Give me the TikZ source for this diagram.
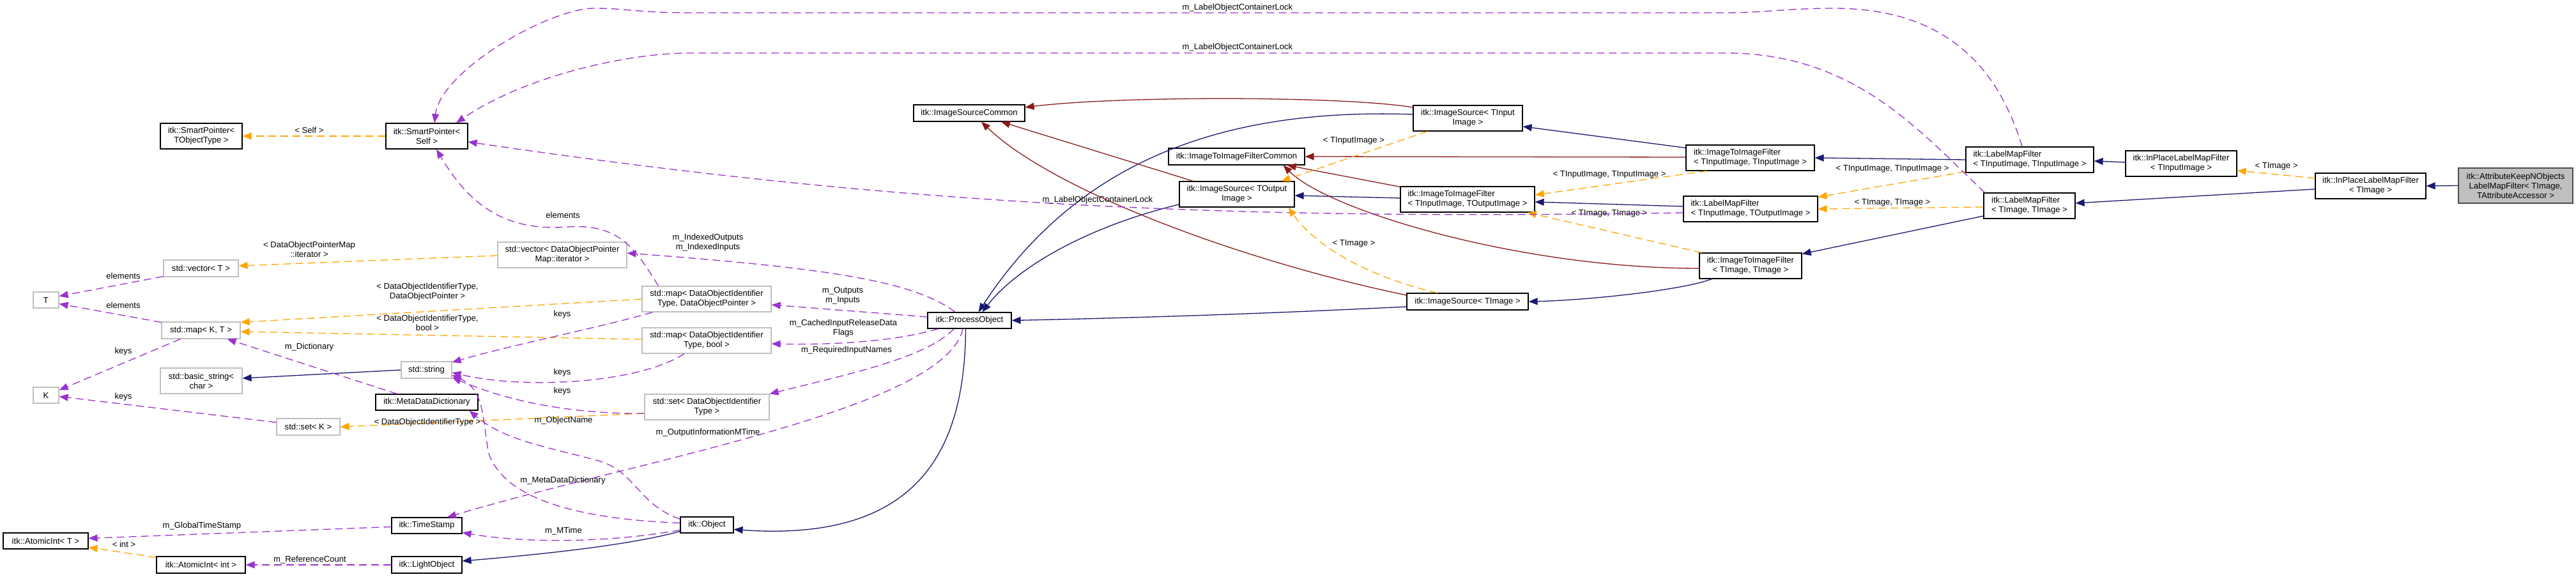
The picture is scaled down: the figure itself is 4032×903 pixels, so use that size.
\documentclass[tikz,border=0pt]{standalone}
\usepackage{fontspec}
\setmainfont{Liberation Sans}
\usetikzlibrary{arrows.meta}
\definecolor{navyc}{HTML}{191970}
\definecolor{brickc}{HTML}{8B1A1A}
\definecolor{orchidc}{HTML}{9A32CD}
\definecolor{orangec}{HTML}{FFA500}
\definecolor{greyc}{HTML}{BFBFBF}
\newcommand\dgfont{\fontsize{6.55pt}{7.5pt}\selectfont}
\newcommand\mknode[7]{\node[#6, minimum width={(#4-#2)*0.5pt}, minimum height={(#5-#3)*0.5pt}] (#1) at ({(#2+#4)/2},{(#3+#5)/2}) {#7};}
\begin{document}
\begin{tikzpicture}[x=0.5pt,y=-0.5pt,
 clsbox/.style={draw, line width=0.6pt, inner sep=0pt, font=\dgfont, align=center},
 doc/.style={clsbox, draw=black},
 undoc/.style={clsbox, draw=greyc},
 cur/.style={clsbox, draw=black!70, fill=greyc},
 lft/.style={align=left},
 conn/.style={line width=0.65pt},
 dxtip/.style={-{Triangle[length=7pt,width=5.5pt]}},
 pub/.style={conn, dxtip, draw=navyc},
 prot/.style={conn, dxtip, draw=brickc},
 usg/.style={conn, dxtip, draw=orchidc, dash pattern=on 6pt off 3.5pt},
 tmpl/.style={conn, dxtip, draw=orangec, dash pattern=on 6pt off 3.5pt},
 lbl/.style={font=\dgfont, align=center, inner sep=0pt},
]
\fill[white] (0,0) rectangle (4032,903);
\useasboundingbox (0,0) rectangle (4032,903);

% nodes
\mknode{spT}{251}{193}{379}{233}{doc}{itk::SmartPointer<\\TObjectType >}
\mknode{spS}{604}{193}{732}{233}{doc}{itk::SmartPointer<\\Self >}
\mknode{vecT}{256}{407}{373}{433}{undoc}{std::vector< T >}
\mknode{T}{52}{457}{92}{482}{undoc}{T}
\mknode{mapKT}{253}{504}{376}{530}{undoc}{std::map< K, T >}
\mknode{bstr}{251}{576}{379}{616}{undoc}{std::basic\_string<\\char >}
\mknode{K}{52}{606}{92}{631}{undoc}{K}
\mknode{setK}{433}{655}{532}{681}{undoc}{std::set< K >}
\mknode{aiT}{5}{834}{138}{859}{doc}{itk::AtomicInt< T >}
\mknode{aiInt}{245}{871}{384}{897}{doc}{itk::AtomicInt< int >}
\mknode{str}{628}{566}{707}{592}{undoc}{std::string}
\mknode{mdd}{588}{617}{748}{642}{doc}{itk::MetaDataDictionary}
\mknode{ts}{613}{810}{723}{835}{doc}{itk::TimeStamp}
\mknode{lo}{613}{871}{723}{897}{doc}{itk::LightObject}
\mknode{obj}{1065}{809}{1148}{834}{doc}{itk::Object}
\mknode{vecIt}{779}{379}{981}{419}{undoc}{std::vector< DataObjectPointer\\Map::iterator >}
\mknode{mapDP}{1005}{448}{1207}{488}{undoc}{std::map< DataObjectIdentifier\\Type, DataObjectPointer >}
\mknode{mapDB}{1005}{513}{1207}{553}{undoc}{std::map< DataObjectIdentifier\\Type, bool >}
\mknode{setD}{1009}{617}{1204}{657}{undoc}{std::set< DataObjectIdentifier\\Type >}
\mknode{isc}{1430}{164}{1604}{190}{doc}{itk::ImageSourceCommon}
\mknode{po}{1452}{489}{1583}{514}{doc}{itk::ProcessObject}
\mknode{iifc}{1829}{232}{2042}{258}{doc}{itk::ImageToImageFilterCommon}
\mknode{isOut}{1846}{284}{2026}{324}{doc}{itk::ImageSource< TOutput\\Image >}
\mknode{isIn}{2212}{165}{2383}{205}{doc}{itk::ImageSource< TInput\\Image >}
\mknode{iifIO}{2192}{292}{2402}{332}{doc,lft}{itk::ImageToImageFilter\\< TInputImage, TOutputImage >}
\mknode{isImg}{2202}{459}{2392}{485}{doc}{itk::ImageSource< TImage >}
\mknode{iifII}{2639}{227}{2840}{267}{doc,lft}{itk::ImageToImageFilter\\< TInputImage, TInputImage >}
\mknode{lmfIO}{2635}{307}{2845}{347}{doc,lft}{itk::LabelMapFilter\\< TInputImage, TOutputImage >}
\mknode{iifTT}{2660}{396}{2820}{436}{doc}{itk::ImageToImageFilter\\< TImage, TImage >}
\mknode{lmfII}{3077}{230}{3277}{270}{doc,lft}{itk::LabelMapFilter\\< TInputImage, TInputImage >}
\mknode{lmfTT}{3105}{302}{3248}{342}{doc,lft}{itk::LabelMapFilter\\< TImage, TImage >}
\mknode{iplIn}{3327}{236}{3501}{276}{doc}{itk::InPlaceLabelMapFilter\\< TInputImage >}
\mknode{iplT}{3624}{271}{3797}{311}{doc}{itk::InPlaceLabelMapFilter\\< TImage >}
\mknode{akn}{3848}{263}{4027}{318}{cur}{itk::AttributeKeepNObjects\\LabelMapFilter< TImage,\\TAttributeAccessor >}

% connectors
\draw[pub] (akn.west) -- (iplT.east);
\draw[pub] ([shift={(0,5)}]iplT.west) -- ([shift={(0,-4)}]lmfTT.east);
\draw[pub] ([shift={(0,-2)}]iplIn.west) -- ([shift={(0,2)}]lmfII.east);
\draw[tmpl] ([shift={(0,-12)}]iplT.west) -- ([shift={(0,11)}]iplIn.east);
\node[lbl] (l4) at (3563,260) {< TImage >};
\draw[pub] (lmfII.west) -- (iifII.east);
\draw[tmpl] ([shift={(0,-2)}]lmfII.south west) -- ([shift={(0,2)}]lmfIO.north east);
\node[lbl] (l6) at (2962,264) {< TInputImage, TInputImage >};
\draw[tmpl] ([shift={(0,2)}]lmfTT.west) -- (lmfIO.east);
\node[lbl] (l7) at (2962,317) {< TImage, TImage >};
\draw[pub] ([shift={(0,16)}]lmfTT.west) -- ([shift={(0,2)}]iifTT.north east);
\draw[pub] ([shift={(0,-4)}]lmfIO.west) -- ([shift={(0,4)}]iifIO.east);
\draw[tmpl] ([shift={(33,0)}]iifII.south west) -- ([shift={(0,-7)}]iifIO.east);
\node[lbl] (l10) at (2519,273) {< TInputImage, TInputImage >};
\draw[tmpl] ([shift={(4,0)}]iifTT.north west) -- ([shift={(-12,0)}]iifIO.south east);
\node[lbl] (l11) at (2519,334) {< TImage, TImage >};
\draw[pub] ([shift={(0,5)}]iifII.north west) -- ([shift={(0,13)}]isIn.east);
\draw[prot] ([shift={(0,-1)}]iifII.west) -- (iifc.east);
\draw[pub] ([shift={(0,-2)}]iifIO.west) -- ([shift={(0,2)}]isOut.east);
\draw[prot] ([shift={(0,1)}]iifIO.north west) -- ([shift={(-28,0)}]iifc.south east);
\draw[prot] ([shift={(0,4)}]iifTT.west) .. controls (2380,420) and (2080,330) .. ([shift={(-34,0)}]iifc.south east);
\draw[pub] ([shift={(20,0)}]iifTT.south west) .. controls (2630,455) and (2480,470) .. (isImg.east);
\draw[pub] ([shift={(0,-6)}]isIn.west) .. controls (1950,170) and (1700,230) .. ([shift={(14,0)}]po.north);
\draw[prot] ([shift={(0,-17)}]isIn.west) .. controls (2100,150) and (1750,150) .. ([shift={(0,-9)}]isc.east);
\draw[pub] ([shift={(0,16)}]isOut.west) .. controls (1700,355) and (1590,420) .. ([shift={(20,0)}]po.north);
\draw[prot] ([shift={(22,0)}]isOut.north west) -- ([shift={(50,0)}]isc.south);
\draw[prot] ([shift={(0,-10)}]isImg.west) .. controls (1950,410) and (1650,300) .. ([shift={(19,0)}]isc.south);
\draw[pub] ([shift={(0,8)}]isImg.west) .. controls (2000,490) and (1800,497) .. (po.east);
\draw[pub] ([shift={(-6,0)}]po.south) .. controls (1510,690) and (1450,850) .. ([shift={(0,7)}]obj.east);
\draw[pub] ([shift={(0,10)}]obj.west) .. controls (980,855) and (820,870) .. ([shift={(0,-6)}]lo.east);
\draw[usg] (lo.west) -- (aiInt.east);
\node[lbl] (l26) at (485,876) {m\_ReferenceCount};
\draw[usg] ([shift={(0,2)}]ts.west) -- ([shift={(0,-4)}]aiT.east);
\node[lbl] (l27) at (316,823) {m\_GlobalTimeStamp};
\draw[tmpl] ([shift={(0,2)}]aiInt.north west) -- ([shift={(0,10)}]aiT.east);
\node[lbl] (l28) at (194,852) {< int >};
\draw[usg] ([shift={(0,8)}]obj.west) .. controls (950,850) and (820,850) .. ([shift={(0,11)}]ts.east);
\node[lbl] (l29) at (882,831) {m\_MTime};
\draw[usg] ([shift={(-10.5,0)}]po.south) .. controls (1480,640) and (1000,720) .. ([shift={(32,0)}]ts.north);
\node[lbl] (l30) at (1108,677) {m\_OutputInformationMTime};
\draw[usg] ([shift={(-24.5,0)}]po.south) .. controls (1450,560) and (1330,585) .. (setD.north east);
\node[lbl] (l31) at (1325,548) {m\_RequiredInputNames};
\draw[usg] ([shift={(17,0)}]po.south west) .. controls (1400,535) and (1300,540) .. ([shift={(0,5)}]mapDB.east);
\node[lbl] (l32) at (1320,514) {m\_CachedInputReleaseData\\Flags};
\draw[usg] ([shift={(0,-5.5)}]po.west) -- ([shift={(0,9)}]mapDP.east);
\node[lbl] (l33) at (1319,463) {m\_Outputs\\m\_Inputs};
\draw[usg] ([shift={(-22.5,0)}]po.north) .. controls (1430,440) and (1300,420) .. ([shift={(0,-3)}]vecIt.east);
\node[lbl] (l34) at (1108,380) {m\_IndexedOutputs\\m\_IndexedInputs};
\draw[usg] ([shift={(26,0)}]mapDP.north west) .. controls (995,390) and (970,350) .. (890,355) .. controls (800,362) and (740,330) .. ([shift={(15,0)}]spS.south);
\node[lbl] (l35) at (881,337) {elements};
\draw[tmpl] (spS.west) -- (spT.east);
\node[lbl] (l36) at (484,204) {< Self >};
\draw[usg] ([shift={(0,6)}]lmfIO.west) .. controls (1900,345) and (1400,320) .. ([shift={(0,9)}]spS.east);
\node[lbl] (l37) at (1718,313) {m\_LabelObjectContainerLock};
\draw[usg] ([shift={(2,0)}]lmfTT.north west) .. controls (3000,200) and (2900,83) .. (2700,83) -- (1080,83) .. controls (980,83) and (820,120) .. ([shift={(46,0)}]spS.north);
\node[lbl] (l38) at (1937,74) {m\_LabelObjectContainerLock};
\draw[usg] ([shift={(-12,0)}]lmfII.north) .. controls (3120,80) and (3020,13) .. (2870,13) .. controls (2800,13) and (2760,20) .. (2700,20) -- (1080,20) .. controls (1000,20) and (980,13) .. (930,13) .. controls (860,13) and (690,110) .. ([shift={(12,0)}]spS.north);
\node[lbl] (l39) at (1937,12) {m\_LabelObjectContainerLock};
\draw[tmpl] ([shift={(23,0)}]isIn.south west) -- ([shift={(-21,0)}]isOut.north east);
\node[lbl] (l40) at (2119,220) {< TInputImage >};
\draw[tmpl] ([shift={(48,0)}]isImg.north west) .. controls (2130,430) and (2055,380) .. ([shift={(-10,0)}]isOut.south east);
\node[lbl] (l41) at (2119,381) {< TImage >};
\draw[pub] (str.west) -- ([shift={(0,-4)}]bstr.east);
\draw[usg] ([shift={(34,0)}]mdd.north west) -- ([shift={(-21,0)}]mapKT.south east);
\node[lbl] (l43) at (484,543) {m\_Dictionary};
\draw[usg] ([shift={(30,0)}]mapKT.south west) -- ([shift={(0,-8)}]K.east);
\node[lbl] (l44) at (193,550) {keys};
\draw[usg] ([shift={(0,-7)}]setK.west) -- ([shift={(0,2)}]K.east);
\node[lbl] (l45) at (193,621) {keys};
\draw[usg] ([shift={(0,-1)}]vecT.south west) -- ([shift={(0,-6)}]T.east);
\node[lbl] (l46) at (193,432) {elements};
\draw[usg] ([shift={(0,1)}]mapKT.north west) -- ([shift={(0,6)}]T.east);
\node[lbl] (l47) at (193,478) {elements};
\draw[tmpl] ([shift={(0,1)}]vecIt.west) -- ([shift={(0,-4)}]vecT.east);
\node[lbl] (l48) at (484,390) {< DataObjectPointerMap\\::iterator >};
\draw[tmpl] (mapDP.west) -- ([shift={(0,1)}]mapKT.north east);
\node[lbl] (l49) at (669,457) {< DataObjectIdentifierType,\\DataObjectPointer >};
\draw[tmpl] ([shift={(0,-2)}]mapDB.west) -- ([shift={(0,2)}]mapKT.east);
\node[lbl] (l50) at (669,505) {< DataObjectIdentifierType,\\bool >};
\draw[tmpl] ([shift={(0,10)}]setD.west) -- (setK.east);
\node[lbl] (l51) at (669,661) {< DataObjectIdentifierType >};
\draw[usg] ([shift={(17,0)}]mapDP.south west) .. controls (950,510) and (800,540) .. ([shift={(0,-12)}]str.east);
\node[lbl] (l52) at (880,492) {keys};
\draw[usg] ([shift={(-35,0)}]mapDB.south) .. controls (1000,600) and (820,610) .. ([shift={(0,4)}]str.east);
\node[lbl] (l53) at (880,583) {keys};
\draw[usg] ([shift={(0,10)}]setD.west) .. controls (900,648) and (800,630) .. ([shift={(0,-2)}]str.south east);
\node[lbl] (l54) at (880,612) {keys};
\draw[usg] ([shift={(0,-3)}]obj.west) .. controls (900,812) and (790,780) .. (765,710) .. controls (755,660) and (760,610) .. ([shift={(0,8)}]str.east);
\node[lbl] (l55) at (882,658) {m\_ObjectName};
\draw[usg] ([shift={(0,4)}]obj.north west) .. controls (1000,790) and (995,740) .. (940,722) .. controls (860,700) and (790,690) .. ([shift={(-14,0)}]mdd.south east);
\node[lbl] (l56) at (881,752) {m\_MetaDataDictionary};
\end{tikzpicture}
\end{document}
